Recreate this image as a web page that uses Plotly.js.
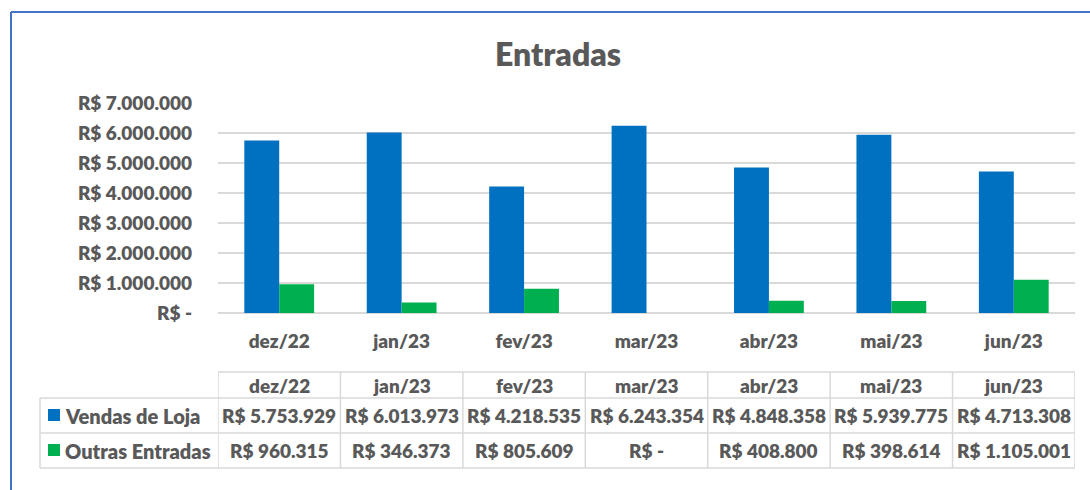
<!DOCTYPE html>
<html>
<head>
<meta charset="utf-8">
<script src="https://cdn.plot.ly/plotly-3.0.1.min.js"></script>
<style>
  html, body { margin: 0; padding: 0; background: #ffffff; }
  #chart { width: 1090px; height: 490px; }
</style>
</head>
<body>
<div id="chart"></div>
<script>
// ---- Data ----
const months = ["dez/22", "jan/23", "fev/23", "mar/23", "abr/23", "mai/23", "jun/23"];
const seriesNames = ["Vendas de Loja", "Outras Entradas"];
const vendasLoja = [5753929, 6013973, 4218535, 6243354, 4848358, 5939775, 4713308];
const outrasEntradas = [960315, 346373, 805609, 0, 408800, 398614, 1105001];
const yTickValues = [0, 1000000, 2000000, 3000000, 4000000, 5000000, 6000000, 7000000];
const chartTitle = "Entradas";

// ---- Styles ----
const BLUE = "#0070C0";
const GREEN = "#00B050";
const TXT = "#595959";
const GRID = "#D9D9D9";
const FONT = "Lato, 'Open Sans', sans-serif";
const W = 800;

function brl(v) {
  if (v === 0) return "R$ -";
  return "R$ " + String(v).replace(/\B(?=(\d{3})+(?!\d))/g, ".");
}

// pixel -> paper helpers (plot area: x 218..1075, y 103..313)
const L = 218, R = 1075, T = 103, B = 313;
const px = x => (x - L) / (R - L);
const py = y => (B - y) / (B - T);

const traces = [
  { type: "bar", name: seriesNames[0], x: months, y: vendasLoja,
    marker: { color: BLUE }, hoverinfo: "x+y" },
  { type: "bar", name: seriesNames[1], x: months, y: outrasEntradas,
    marker: { color: GREEN }, hoverinfo: "x+y" }
];

const shapes = [];
const annotations = [];
const lineStyle = { color: GRID, width: 1.5 };

// chart border (top & left)
shapes.push({ type: "line", xref: "paper", yref: "paper", x0: px(11), x1: px(1095), y0: py(12), y1: py(12), line: { color: "#4472C4", width: 2 } });
shapes.push({ type: "line", xref: "paper", yref: "paper", x0: px(11), x1: px(11), y0: py(12), y1: py(495), line: { color: "#4472C4", width: 2 } });

// data table horizontal lines
shapes.push({ type: "line", xref: "paper", yref: "paper", x0: 0, x1: 1, y0: py(372), y1: py(372), line: lineStyle });
[398, 433, 468].forEach(y => {
  shapes.push({ type: "line", xref: "paper", yref: "paper", x0: px(40), x1: 1, y0: py(y), y1: py(y), line: lineStyle });
});
// vertical lines
shapes.push({ type: "line", xref: "paper", yref: "paper", x0: px(40), x1: px(40), y0: py(398), y1: py(468), line: lineStyle });
for (let k = 0; k <= months.length; k++) {
  shapes.push({ type: "line", xref: "x", yref: "paper", x0: k - 0.5, x1: k - 0.5, y0: py(372), y1: py(468), line: lineStyle });
}
// legend keys
shapes.push({ type: "rect", xref: "paper", yref: "paper", x0: px(48), x1: px(60), y0: py(409), y1: py(421), fillcolor: BLUE, line: { width: 0 } });
shapes.push({ type: "rect", xref: "paper", yref: "paper", x0: px(48), x1: px(60), y0: py(444), y1: py(456), fillcolor: GREEN, line: { width: 0 } });

const tfont = { family: FONT, size: 19, color: TXT, weight: W };
const lfont = { family: FONT, size: 20, color: TXT, weight: W };
annotations.push({ xref: "paper", yref: "paper", x: px(63), y: py(415.5), xanchor: "left", yanchor: "middle", text: seriesNames[0], showarrow: false, font: lfont });
annotations.push({ xref: "paper", yref: "paper", x: px(63), y: py(450.5), xanchor: "left", yanchor: "middle", text: seriesNames[1], showarrow: false, font: lfont });

months.forEach((m, i) => {
  annotations.push({ xref: "x", yref: "paper", x: i, y: py(385), xanchor: "center", yanchor: "middle", text: m, showarrow: false, font: tfont });
  annotations.push({ xref: "x", yref: "paper", x: i, y: py(415.5), xanchor: "center", yanchor: "middle", text: brl(vendasLoja[i]), showarrow: false, font: tfont });
  annotations.push({ xref: "x", yref: "paper", x: i, y: py(450.5), xanchor: "center", yanchor: "middle", text: brl(outrasEntradas[i]), showarrow: false, font: tfont });
});

const layout = {
  width: 1090, height: 490,
  paper_bgcolor: "#ffffff", plot_bgcolor: "#ffffff",
  margin: { l: L, r: 1090 - R, t: T, b: 490 - B, pad: 0 },
  showlegend: false,
  barmode: "group", bargap: 0.43, bargroupgap: 0,
  title: { text: chartTitle, font: { family: FONT, size: 32, color: TXT, weight: W },
           xref: "container", yref: "container", x: 558 / 1090, y: 1 - 55 / 490, xanchor: "center", yanchor: "middle" },
  font: { family: FONT, color: TXT },
  xaxis: {
    type: "category", range: [-0.5, months.length - 0.5],
    showline: false, showgrid: false, zeroline: false, ticks: "",
    tickfont: { family: FONT, size: 19, color: TXT, weight: W },
    ticklabelstandoff: 15, fixedrange: true
  },
  yaxis: {
    range: [0, 7000000], tickmode: "array",
    tickvals: yTickValues, ticktext: yTickValues.map(brl),
    showgrid: true, gridcolor: GRID, gridwidth: 1.5,
    zeroline: true, zerolinecolor: GRID, zerolinewidth: 1.5,
    showline: false, ticks: "",
    tickfont: { family: FONT, size: 19, color: TXT, weight: W },
    ticklabelstandoff: 25, fixedrange: true
  },
  shapes: shapes,
  annotations: annotations
};

Plotly.newPlot("chart", traces, layout, { displayModeBar: false, staticPlot: true });
</script>
</body>
</html>
